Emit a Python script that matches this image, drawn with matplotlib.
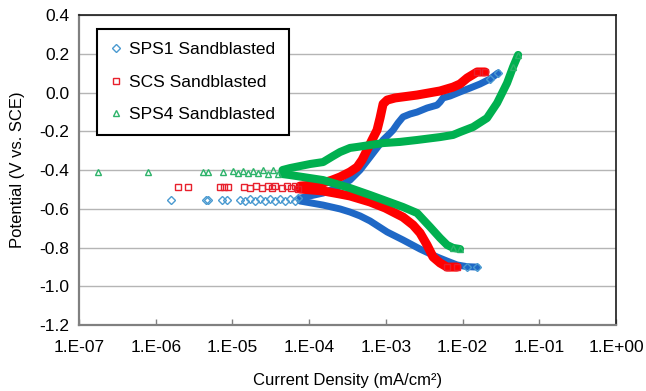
import matplotlib
matplotlib.use("Agg")
import matplotlib.pyplot as plt
from matplotlib.lines import Line2D

plt.rcParams["font.family"] = ["Liberation Sans", "DejaVu Sans"]
plt.rcParams["axes.unicode_minus"] = False

# Polarisation data: current density (mA/cm2) vs potential (V vs. SCE)
# SPS1 Sandblasted
sps1_ecorr_i = [1.58e-6, 4.5e-6, 4.8e-6, 7.3e-6, 8.5e-6, 1.26e-5, 1.46e-5, 1.69e-5, 1.96e-5,
                2.29e-5, 2.65e-5, 3.09e-5, 3.6e-5, 4.2e-5, 4.8e-5, 5.6e-5, 6.5e-5, 7.2e-5]
sps1_ecorr_e = [-0.555, -0.555, -0.556, -0.554, -0.556, -0.553, -0.558, -0.552, -0.559,
                -0.551, -0.560, -0.550, -0.561, -0.549, -0.562, -0.548, -0.560, -0.547]
sps1_anod_i = [7.6e-5, 1.52e-4, 2.53e-4, 3.41e-4, 4.61e-4, 6.22e-4, 7.67e-4, 9.2e-4,
               1.14e-3, 1.24e-3, 1.44e-3, 1.67e-3, 2.07e-3, 2.55e-3, 3.44e-3, 4.65e-3,
               5.09e-3, 5.57e-3, 6.87e-3, 9.27e-3, 1.25e-2, 1.69e-2, 2.29e-2, 2.90e-2]
sps1_anod_e = [-0.545, -0.519, -0.483, -0.452, -0.400, -0.333, -0.286, -0.245,
               -0.209, -0.194, -0.157, -0.126, -0.111, -0.101, -0.080, -0.065,
               -0.049, -0.028, -0.018, 0.003, 0.023, 0.044, 0.070, 0.101]
sps1_cath_i = [7.6e-5, 1.52e-4, 2.53e-4, 3.41e-4, 4.61e-4, 6.22e-4, 1.04e-3, 1.67e-3,
               2.79e-3, 4.65e-3, 6.28e-3, 8.47e-3, 1.15e-2, 1.55e-2]
sps1_cath_e = [-0.560, -0.581, -0.601, -0.617, -0.637, -0.663, -0.720, -0.761,
               -0.808, -0.849, -0.870, -0.890, -0.899, -0.901]

# SCS Sandblasted
scs_ecorr_i = [1.95e-6, 2.6e-6, 6.9e-6, 7.8e-6, 8.8e-6, 1.4e-5, 1.7e-5, 2.0e-5, 2.4e-5,
               2.9e-5, 3.3e-5, 3.6e-5, 4.4e-5, 5.1e-5, 5.8e-5, 6.6e-5, 7.2e-5]
scs_ecorr_e = [-0.488, -0.488, -0.489, -0.488, -0.489, -0.486, -0.491, -0.485, -0.492,
               -0.485, -0.493, -0.484, -0.494, -0.484, -0.495, -0.483, -0.496]
scs_anod_i = [7.6e-5, 1.19e-4, 1.52e-4, 1.99e-4, 2.53e-4, 3.41e-4, 4.22e-4, 4.9e-4,
              5.69e-4, 6.6e-4, 7.67e-4, 8.39e-4, 9.2e-4, 1.04e-3, 1.32e-3, 2.55e-3,
              5.09e-3, 7.52e-3, 9.27e-3, 1.15e-2, 1.55e-2, 1.96e-2]
scs_anod_e = [-0.483, -0.477, -0.467, -0.452, -0.436, -0.410, -0.385, -0.348,
              -0.297, -0.245, -0.194, -0.132, -0.059, -0.039, -0.028, -0.013,
              0.008, 0.028, 0.044, 0.075, 0.106, 0.106]
scs_cath_i = [7.6e-5, 1.52e-4, 2.53e-4, 3.41e-4, 6.22e-4, 9.8e-4, 1.67e-3, 2.26e-3,
              2.79e-3, 3.44e-3, 4.12e-3, 5.09e-3, 6.28e-3, 8.47e-3]
scs_cath_e = [-0.498, -0.508, -0.524, -0.534, -0.565, -0.596, -0.643, -0.684,
              -0.725, -0.787, -0.849, -0.880, -0.901, -0.901]

# SPS4 Sandblasted
sps4_ecorr_i = [1.77e-7, 7.9e-7, 4.15e-6, 4.8e-6, 7.5e-6, 1.01e-5, 1.17e-5, 1.37e-5,
                1.59e-5, 1.85e-5, 2.15e-5, 2.5e-5, 2.9e-5, 3.4e-5, 3.9e-5]
sps4_ecorr_e = [-0.410, -0.410, -0.410, -0.408, -0.410, -0.407, -0.414, -0.405,
                -0.416, -0.404, -0.418, -0.402, -0.420, -0.400, -0.421]
sps4_anod_i = [4.5e-5, 5.63e-5, 1.03e-4, 1.52e-4, 2.05e-4, 2.53e-4, 3.41e-4, 4.22e-4,
               6.22e-4, 9.2e-4, 1.53e-3, 2.55e-3, 5.09e-3, 7.52e-3, 9.27e-3, 1.37e-2,
               2.08e-2, 2.82e-2, 3.80e-2, 4.55e-2, 5.30e-2]
sps4_anod_e = [-0.400, -0.390, -0.369, -0.359, -0.328, -0.307, -0.286, -0.281,
               -0.271, -0.261, -0.255, -0.245, -0.230, -0.219, -0.204, -0.178,
               -0.132, -0.054, 0.049, 0.132, 0.194]
sps4_cath_i = [4.5e-5, 5.63e-5, 1.52e-4, 3.41e-4, 6.22e-4, 1.67e-3, 2.55e-3, 3.77e-3,
               5.09e-3, 6.28e-3, 7.52e-3, 9.27e-3]
sps4_cath_e = [-0.421, -0.426, -0.452, -0.493, -0.529, -0.591, -0.622, -0.694,
               -0.751, -0.787, -0.802, -0.808]

series = [
    ("SPS1 Sandblasted", "D", "#1f68c6", "#4a9ad0", 5.0,
     sps1_ecorr_i, sps1_ecorr_e, sps1_anod_i, sps1_anod_e, sps1_cath_i, sps1_cath_e),
    ("SCS Sandblasted", "s", "#ff0000", "#e8202c", 6.5,
     scs_ecorr_i, scs_ecorr_e, scs_anod_i, scs_anod_e, scs_cath_i, scs_cath_e),
    ("SPS4 Sandblasted", "^", "#00b04f", "#2db36a", 5.8,
     sps4_ecorr_i, sps4_ecorr_e, sps4_anod_i, sps4_anod_e, sps4_cath_i, sps4_cath_e),
]

fig = plt.figure(figsize=(6.46, 3.91), dpi=100)
ax = fig.add_axes([0.1223, 0.1688, 0.8313, 0.7928])

handles = []
for label, mk, col, light, lw, ei, ee, ai, ae, ci, ce in series:
    for xs, ys in ((ai, ae), (ci, ce)):
        ax.plot(xs, ys, color=col, lw=lw, solid_capstyle="round",
                solid_joinstyle="round", zorder=3)
        ax.plot(xs[-2:], ys[-2:], ls="none", marker=mk, ms=4.5, mfc="none",
                mec=light, mew=1, zorder=3)
    ax.plot(ei, ee, ls="none", marker=mk, ms=4.5, mfc="none", mec=light, mew=1,
            zorder=3)
    handles.append(Line2D([], [], ls="none", marker=mk, ms=4.2, mfc="none",
                          mec=light, mew=1, label=label))

ax.set_xscale("log")
ax.set_xlim(1e-7, 1)
ax.set_ylim(-1.2, 0.4)

xticks = [1e-7, 1e-6, 1e-5, 1e-4, 1e-3, 1e-2, 1e-1, 1e0]
xlabels = ["1.E-07", "1.E-06", "1.E-05", "1.E-04", "1.E-03", "1.E-02", "1.E-01", "1.E+00"]
ax.set_xticks(xticks)
ax.set_xticklabels(xlabels)
ax.xaxis.set_minor_locator(matplotlib.ticker.NullLocator())

yticks = [-1.2, -1.0, -0.8, -0.6, -0.4, -0.2, 0.0, 0.2, 0.4]
ax.set_yticks(yticks)
ax.set_yticklabels([f"{v:.1f}" for v in yticks])

ax.yaxis.grid(True, color="#b5b5b5", lw=1)
ax.set_axisbelow(True)

ax.tick_params(axis="x", direction="in", length=4, width=1, color="#808080",
               pad=11, labelsize=12.5)
ax.tick_params(axis="y", length=0, pad=7, labelsize=12.5)

for side in ("left", "bottom"):
    ax.spines[side].set_color("#808080")
    ax.spines[side].set_linewidth(1.6)
for side in ("top", "right"):
    ax.spines[side].set_color("#1a1a1a")
    ax.spines[side].set_linewidth(1.2)

ax.set_xlabel("Current Density (mA/cm\u00b2)", fontsize=12, labelpad=13)
ax.set_ylabel("Potential (V vs. SCE)", fontsize=12, labelpad=10)

leg = ax.legend(handles=handles, loc="upper left", bbox_to_anchor=(0.034, 0.955),
                fontsize=12.5, frameon=True, fancybox=False, framealpha=1,
                edgecolor="black", borderpad=0.75, labelspacing=1.0,
                handlelength=0.7, handletextpad=0.4, borderaxespad=0)
leg.get_frame().set_linewidth(1.5)

fig.savefig("out.png", dpi=100)
